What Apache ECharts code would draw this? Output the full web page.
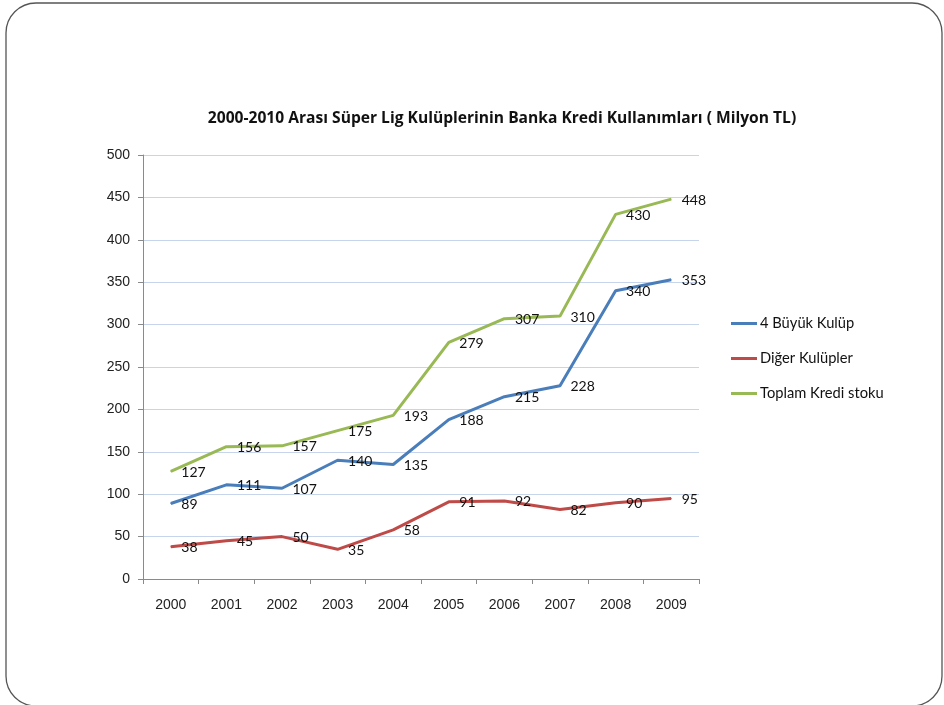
<!DOCTYPE html>
<html>
<head>
<meta charset="utf-8">
<script src="https://cdn.jsdelivr.net/npm/echarts@6/dist/echarts.min.js"></script>
<style>
html,body{margin:0;padding:0;background:#fff;}
#chart{width:944px;height:705px;}
</style>
</head>
<body>
<div id="chart"></div>
<script>
var years = ['2000','2001','2002','2003','2004','2005','2006','2007','2008','2009'];
var buyuk4 = [89, 111, 107, 140, 135, 188, 215, 228, 340, 353];
var diger = [38, 45, 50, 35, 58, 91, 92, 82, 90, 95];
var toplam = [127, 156, 157, 175, 193, 279, 307, 310, 430, 448];
var seriesNames = ['4 Büyük Kulüp', 'Diğer Kulüpler', 'Toplam Kredi stoku'];
var colors = ['#4A7EBB', '#BE4B48', '#98B954'];

var chart = echarts.init(document.getElementById('chart'));
function mk(name, data, color) {
  return {
    name: name, type: 'line', data: data,
    symbol: 'circle', symbolSize: 1,
    itemStyle: {color: color},
    lineStyle: {color: color, width: 3},
    label: {show: true, position: 'right', distance: 10, offset: [0, 1],
      fontFamily: 'Lato', fontSize: 14, color: '#111'},
    emphasis: {disabled: true},
    animation: false
  };
}
chart.setOption({
  animation: false,
  backgroundColor: '#fff',
  graphic: [{
    type: 'rect', silent: true,
    shape: {x: 6, y: 3, width: 936, height: 703, r: 30},
    style: {fill: 'none', stroke: '#555', lineWidth: 1.3}
  }],
  title: {
    text: '2000-2010 Arası Süper Lig Kulüplerinin Banka Kredi Kullanımları ( Milyon TL)',
    left: 497, top: 106, textAlign: 'center',
    textStyle: {fontFamily: 'Open Sans', fontWeight: 'bold', fontSize: 15.6, color: '#111'}
  },
  legend: {
    orient: 'vertical', left: 726, top: 311,
    data: seriesNames,
    icon: 'rect', itemWidth: 26, itemHeight: 3, itemGap: 20,
    textStyle: {fontFamily: 'Lato', fontSize: 14.7, color: '#111', padding: [0,0,0,-2]}
  },
  grid: {left: 143, right: 245, top: 155, bottom: 126, containLabel: false},
  xAxis: {
    type: 'category', data: years, boundaryGap: true,
    axisLine: {lineStyle: {color: '#8A8A8A', width: 1}},
    axisTick: {show: true, length: 5, lineStyle: {color: '#8A8A8A'}},
    axisLabel: {fontFamily: 'Liberation Sans', fontSize: 14, color: '#222', margin: 19}
  },
  yAxis: {
    type: 'value', min: 0, max: 500, interval: 50,
    axisLine: {show: true, lineStyle: {color: '#8A8A8A', width: 1}},
    axisTick: {show: true, length: 5, lineStyle: {color: '#8A8A8A'}},
    axisLabel: {fontFamily: 'Liberation Sans', fontSize: 14, color: '#222', margin: 13},
    splitLine: {lineStyle: {color: '#C6D5EC', width: 1}}
  },
  series: [
    mk(seriesNames[0], buyuk4, colors[0]),
    mk(seriesNames[1], diger, colors[1]),
    mk(seriesNames[2], toplam, colors[2])
  ]
});
</script>
</body>
</html>
